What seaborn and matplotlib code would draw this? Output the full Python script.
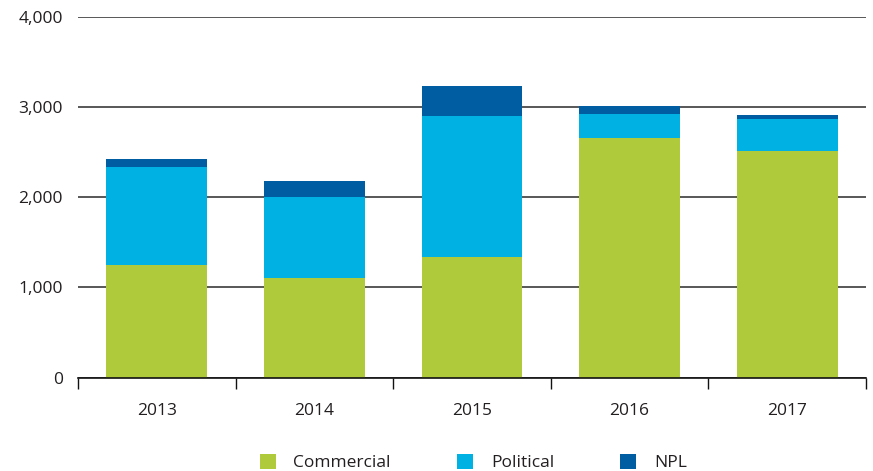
import matplotlib
matplotlib.use("Agg")
import matplotlib.pyplot as plt
from matplotlib.patches import Patch
import numpy as np
import pandas as pd
import seaborn as sns

years = ["2013", "2014", "2015", "2016", "2017"]
commercial = [1250, 1110, 1340, 2655, 2510]
political = [1085, 890, 1560, 265, 355]
npl = [90, 180, 330, 90, 45]

series_names = ["Commercial", "Political", "NPL"]
colors = ["#AFCA3A", "#00B2E3", "#005DA2"]
y_ticks = [0, 1000, 2000, 3000, 4000]

sns.set_theme(style="white")
plt.rcParams["font.family"] = ["Open Sans", "DejaVu Sans"]
text_color = "#231F20"
fs = 12.5

c = np.array(commercial)
p = np.array(political)
n = np.array(npl)
df = pd.DataFrame({
    "year": years,
    "top_npl": c + p + n,
    "top_political": c + p,
    "top_commercial": c,
})

fig = plt.figure(figsize=(8.73, 4.71), dpi=100)
ax = fig.add_axes([0.0893, 0.198, 0.9027, 0.7665])

# stacked bars drawn as overlapping cumulative totals, tallest first
for col, color in zip(["top_npl", "top_political", "top_commercial"], colors[::-1]):
    sns.barplot(data=df, x="year", y=col, color=color, saturation=1,
                width=0.64, ax=ax, zorder=3, linewidth=0)

ax.set_ylim(0, 4000)
ax.set_xlim(-0.5, len(years) - 0.5)
ax.set_yticks(y_ticks)
ax.set_yticklabels([f"{v:,}" for v in y_ticks])
ax.yaxis.grid(True, color="#2a2a2a", linewidth=1.1, zorder=0)
ax.set_axisbelow(True)
ax.set_xlabel("")
ax.set_ylabel("")

for side in ["left", "right", "top"]:
    ax.spines[side].set_visible(False)
ax.spines["bottom"].set_color("#111111")
ax.spines["bottom"].set_linewidth(1.2)
ax.spines["bottom"].set_zorder(4)

# category separator ticks below the baseline
ax.set_xticks(np.arange(-0.5, len(years), 1.0), minor=True)
ax.tick_params(axis="x", which="minor", bottom=True, length=8, width=1, color="#111111")
ax.tick_params(axis="x", which="major", bottom=False, pad=12, labelsize=fs, labelcolor=text_color)
ax.tick_params(axis="y", left=False, pad=5, labelsize=fs, labelcolor=text_color)

handles = [Patch(facecolor=col, edgecolor="none") for col in colors]
fig.legend(handles, series_names, loc="lower center", ncol=3, frameon=False,
           bbox_to_anchor=(0.542, -0.034), fontsize=fs, handlelength=0.95,
           handleheight=0.95, handletextpad=1.0, columnspacing=3.8,
           labelcolor=text_color)

fig.savefig("out.png", dpi=100)
